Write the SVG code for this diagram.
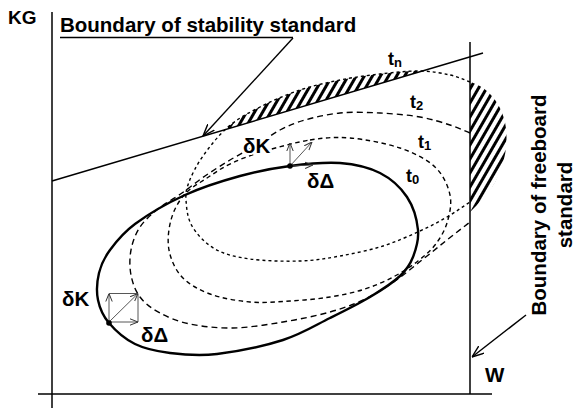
<svg xmlns="http://www.w3.org/2000/svg" width="576" height="411" viewBox="0 0 576 411">
<style>
  .lbl { font-family: "Liberation Sans", Arial, sans-serif; font-weight: bold; fill: #000; }
  .big { font-size: 20.5px; }
  .t { font-size: 18px; }
  .sub { font-size: 13px; }
  .ax { stroke: #000; stroke-width: 1.5; fill: none; }
  .solid { stroke: #000; stroke-width: 2.4; fill: none; }
  .dn { stroke: #000; stroke-width: 1.4; fill: none; stroke-dasharray: 3 3; }
  .d1 { stroke: #000; stroke-width: 1.4; fill: none; stroke-dasharray: 4.5 3.5; }
  .d2 { stroke: #000; stroke-width: 1.4; fill: none; stroke-dasharray: 6 4; }
  .lead { stroke: #000; stroke-width: 1.4; fill: none; }
  .sm { stroke: #444; stroke-width: 0.9; fill: none; }
  .halo { paint-order: stroke; stroke: #fff; stroke-width: 4px; stroke-linejoin: round; }
</style>
<defs>
  <marker id="arr" viewBox="0 0 12 10" refX="12" refY="5" markerWidth="12" markerHeight="10" markerUnits="userSpaceOnUse" orient="auto">
    <path d="M0,0.5 L12,5 L0,9.5" fill="none" stroke="#000" stroke-width="1.4"/>
  </marker>
  <marker id="arrs" viewBox="0 0 8 8" refX="8" refY="4" markerWidth="8" markerHeight="8" markerUnits="userSpaceOnUse" orient="auto">
    <path d="M0,0.8 L8,4 L0,7.2" fill="none" stroke="#333" stroke-width="1"/>
  </marker>
  <pattern id="hatch" width="7" height="7" patternUnits="userSpaceOnUse" patternTransform="rotate(30)">
    <line x1="3.5" y1="-1" x2="3.5" y2="8" stroke="#000" stroke-width="3"/>
  </pattern>
</defs>

<g id="axes">
  <line class="ax" x1="52" y1="12" x2="52" y2="408"/>
  <line class="ax" x1="38" y1="394" x2="492" y2="394"/>
  <text class="lbl" x="8" y="24" font-size="19">KG</text>
  <text class="lbl big" x="485" y="382">W</text>
</g>

<g id="stability-boundary">
  <line class="ax" x1="52" y1="181" x2="483" y2="53"/>
  <text class="lbl big" x="60" y="32">Boundary of stability standard</text>
  <line class="ax" x1="60" y1="37.5" x2="293" y2="37.5"/>
</g>

<g id="freeboard-boundary">
  <line class="ax" x1="470" y1="42" x2="470" y2="394"/>
  <text class="lbl big" text-anchor="middle" transform="translate(546,205) rotate(-90)">Boundary of freeboard</text>
  <text class="lbl big" text-anchor="middle" transform="translate(572,205) rotate(-90)">standard</text>
</g>

<g id="curve-t0">
  <path class="solid" d="M290,166 C306.7,163.8 325,161.8 340,163 C355,164.2 368.8,167.3 380,173 C391.2,178.7 400.7,187.5 407,197 C413.3,206.5 417,220 418,230 C419,240 416,249.3 413,257 C410,264.7 407.2,269.3 400,276 C392.8,282.7 381.7,290 370,297 C358.3,304 344.5,310.8 330,318 C315.5,325.2 301.8,334 283,340 C264.2,346 235.8,351.8 217,354 C198.2,356.2 183.7,354.7 170,353 C156.3,351.3 145.2,349 135,344 C124.8,339 115.2,330.3 109,323 C102.8,315.7 99.7,308.3 98,300 C96.3,291.7 97,281.3 99,273 C101,264.7 104,258.2 110,250 C116,241.8 122.5,233.2 135,224 C147.5,214.8 167.5,203 185,195 C202.5,187 222.5,180.8 240,176 C257.5,171.2 273.3,168.2 290,166 Z"/>
  <text class="lbl t" x="406" y="182">t<tspan class="sub" dy="2">0</tspan></text>
</g>

<g id="curve-t1">
  <path class="d1" d="M310,140 C324.2,137.8 335,136.7 350,138 C365,139.3 385.8,143.2 400,148 C414.2,152.8 426.7,159.2 435,167 C443.3,174.8 448,185.7 450,195 C452,204.3 449.5,214.7 447,223 C444.5,231.3 439.8,238.7 435,245 C430.2,251.3 424.7,255.8 418,261 C411.3,266.2 403.8,271.3 395,276 C386.2,280.7 375.8,285.5 365,289 C354.2,292.5 342.5,295 330,297 C317.5,299 303.3,300.2 290,301 C276.7,301.8 263.3,303.2 250,302 C236.7,300.8 221.3,298.2 210,294 C198.7,289.8 188.8,284.3 182,277 C175.2,269.7 170.8,259.5 169,250 C167.2,240.5 168.5,229.2 171,220 C173.5,210.8 178,202 184,195 C190,188 199,183.3 207,178 C215,172.7 222.3,167.5 232,163 C241.7,158.5 252,154.8 265,151 C278,147.2 295.8,142.2 310,140 Z"/>
  <text class="lbl t" x="418" y="148">t<tspan class="sub" dy="2">1</tspan></text>
</g>

<g id="curve-t2">
  <path class="d2" d="M470,133 C463.3,130.3 458.3,127.7 450,125 C441.7,122.3 431.7,119 420,117 C408.3,115 393.3,113.7 380,113 C366.7,112.3 352.5,111.8 340,113 C327.5,114.2 315,117.2 305,120 C295,122.8 288.3,125.7 280,130 C271.7,134.3 263.3,141 255,146 C246.7,151 238.3,155 230,160 C221.7,165 213,170.5 205,176 C197,181.5 189.8,187.5 182,193 C174.2,198.5 165,203.3 158,209 C151,214.7 144.5,220.2 140,227 C135.5,233.8 132.5,242 131,250 C129.5,258 129.5,267.2 131,275 C132.5,282.8 135.2,290.7 140,297 C144.8,303.3 151.7,308.5 160,313 C168.3,317.5 177.8,321.5 190,324 C202.2,326.5 217.5,328.3 233,328 C248.5,327.7 266.8,324.7 283,322 C299.2,319.3 316.3,315.8 330,312 C343.7,308.2 354.2,304.2 365,299 C375.8,293.8 385.5,287.5 395,281 C404.5,274.5 413.3,266.8 422,260 C430.7,253.2 439,246.3 447,240 C455,233.7 462.3,228 470,222"/>
  <text class="lbl t" x="410" y="108">t<tspan class="sub" dy="2">2</tspan></text>
</g>

<g id="curve-tn">
  <path class="dn" d="M470,82 C463.3,79.3 458.3,76.8 450,75 C441.7,73.2 431.7,71.2 420,71 C408.3,70.8 393.3,72.5 380,74 C366.7,75.5 353.3,77.3 340,80 C326.7,82.7 313.3,85.5 300,90 C286.7,94.5 272,100.8 260,107 C248,113.2 237.5,118.8 228,127 C218.5,135.2 209.5,146.8 203,156 C196.5,165.2 191.8,174.7 189,182 C186.2,189.3 185.5,192.7 186,200 C186.5,207.3 187.2,217.8 192,226 C196.8,234.2 205.3,243.5 215,249 C224.7,254.5 235.8,257 250,259 C264.2,261 285,261.5 300,261 C315,260.5 326.2,258.5 340,256 C353.8,253.5 369.7,250.2 383,246 C396.3,241.8 409.3,235.8 420,231 C430.7,226.2 438.7,221.8 447,217 C455.3,212.2 462.3,207 470,202"/>
  <text class="lbl t" x="388" y="65">t<tspan class="sub" dy="2">n</tspan></text>
</g>

<g id="violation-stability">
  <path fill="url(#hatch)" d="M228,127 C237.5,118.8 248,113.2 260,107 C272,100.8 286.7,94.5 300,90 C313.3,85.5 326.7,82.7 340,80 C353.3,77.3 366.7,75.5 380,74 C393.3,72.5 408.3,70.8 420,71 L425,70.3 L228,128.7 Z"/>
</g>

<g id="violation-freeboard">
  <path fill="url(#hatch)" d="M470,82 C485,86 500,100 505,122 C509,142 505,165 495,182 C488,194 478,204 470,212 Z"/>
</g>

<g id="connectors">
  <line class="lead" x1="293" y1="38" x2="203" y2="136" marker-end="url(#arr)"/>
  <line class="lead" x1="526" y1="315" x2="472" y2="357" marker-end="url(#arr)"/>
  <!-- top increments -->
  <line class="sm" x1="290" y1="166" x2="290" y2="143" marker-end="url(#arrs)"/>
  <line class="sm" x1="290" y1="166" x2="313" y2="165" marker-end="url(#arrs)"/>
  <line class="sm" x1="290" y1="166" x2="312" y2="142" marker-end="url(#arrs)"/>
  <!-- bottom increments -->
  <line class="sm" x1="109" y1="322" x2="109" y2="293.5" marker-end="url(#arrs)"/>
  <line class="sm" x1="109" y1="322" x2="138" y2="322" marker-end="url(#arrs)"/>
  <line class="sm" x1="109" y1="322" x2="138" y2="293.5" marker-end="url(#arrs)"/>
  <line class="sm" x1="109" y1="293.5" x2="138" y2="293.5"/>
  <line class="sm" x1="138" y1="293.5" x2="138" y2="322"/>
</g>

<g id="points">
  <circle cx="290" cy="166" r="2.8" fill="#000"/>
  <circle cx="109" cy="323" r="2.8" fill="#000"/>
  <text class="lbl big halo" x="243" y="153">δK</text>
  <text class="lbl big" x="307" y="188">δΔ</text>
  <text class="lbl big" x="62" y="306">δK</text>
  <text class="lbl big" x="141" y="342">δΔ</text>
</g>
</svg>
